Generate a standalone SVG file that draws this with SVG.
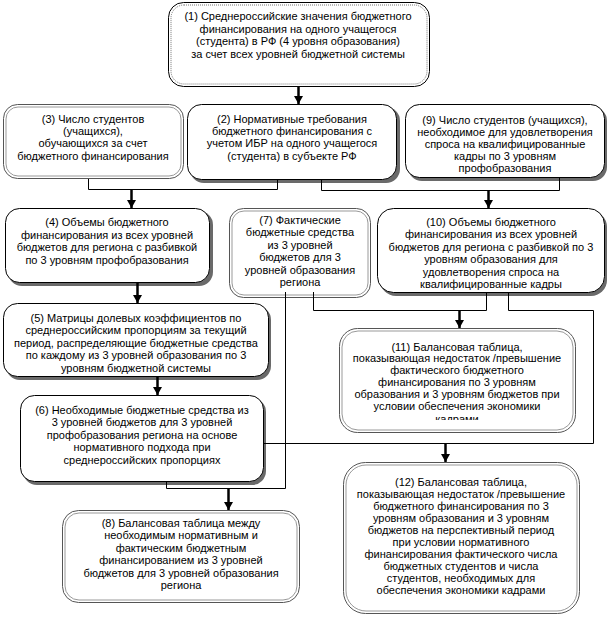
<svg xmlns="http://www.w3.org/2000/svg" width="608" height="617" viewBox="0 0 608 617">
<style>
text{font-family:"Liberation Sans",Arial,sans-serif;font-size:11px;fill:#000;text-anchor:middle}
.sh{fill:#6a6a6a}
.bx{fill:#fff;stroke:#000;stroke-width:1}
.dout{fill:#fff;stroke:#555;stroke-width:1}
.din{fill:none;stroke:#999;stroke-width:1}
.dot{fill:none;stroke:#777;stroke-width:1;stroke-dasharray:1 1}
.ln{fill:none;stroke:#000;stroke-width:1}
.ar{fill:none;stroke:#000;stroke-width:2.5;marker-end:url(#ah)}
</style>
<defs>
<marker id="ah" markerUnits="userSpaceOnUse" markerWidth="10" markerHeight="10" refX="8" refY="5" orient="auto">
<path d="M0,0.5 L8,5 L0,9.5 z" fill="#000"/>
</marker>
<clipPath id="c11"><rect x="340" y="329" width="234" height="91"/></clipPath>
</defs>
<rect width="608" height="617" fill="#fff"/>

<g id="n1">
<rect class="bx" x="168.5" y="2.5" width="261" height="84" rx="15" stroke="#444"/>
<rect class="dot" x="171" y="5" width="256" height="79" rx="13"/>
<text x="298" y="20">(1) Среднероссийские значения  бюджетного</text>
<text x="298" y="32.5">финансирования на одного учащегося</text>
<text x="298" y="45">(студента) в РФ (4 уровня образования)</text>
<text x="298" y="57.5">за счет всех уровней бюджетной системы</text>
</g>

<g id="n3">
<rect class="dout" x="3.5" y="104.5" width="180" height="74" rx="14"/>
<rect class="din" x="6" y="107" width="175" height="69" rx="12"/>
<text x="93" y="123">(3) Число студентов</text>
<text x="93" y="135">(учащихся),</text>
<text x="93" y="147">обучающихся за счет</text>
<text x="93" y="159.5">бюджетного финансирования</text>
</g>

<g id="n2">
<rect class="sh" x="190" y="107" width="210" height="76" rx="14"/>
<rect class="bx" x="187.5" y="104.5" width="209" height="75" rx="14"/>
<text x="292" y="123">(2) Нормативные требования</text>
<text x="292" y="135">бюджетного финансирования с</text>
<text x="292" y="147">учетом ИБР на одного учащегося</text>
<text x="292" y="159.5">(студента) в субъекте РФ</text>
</g>

<g id="n9">
<rect class="sh" x="408" y="107" width="199" height="74" rx="14"/>
<rect class="bx" x="405.5" y="104.5" width="199" height="73" rx="14"/>
<text x="505" y="124">(9) Число студентов (учащихся),</text>
<text x="505" y="136">необходимое для удовлетворения</text>
<text x="505" y="148">спроса на  квалифицированные</text>
<text x="505" y="160">кадры по 3 уровням</text>
<text x="505" y="172">профобразования</text>
</g>

<g id="n4">
<rect class="sh" x="8" y="211" width="205" height="75" rx="14"/>
<rect class="bx" x="5.5" y="208.5" width="204" height="74" rx="14"/>
<text x="107" y="225.5">(4) Объемы бюджетного</text>
<text x="107" y="238.5">финансирования из всех уровней</text>
<text x="107" y="251">бюджетов для региона с разбивкой</text>
<text x="107" y="263.5">по 3 уровням профобразования</text>
</g>

<g id="n7">
<rect class="dout" x="229.5" y="208.5" width="141" height="89" rx="14"/>
<rect class="din" x="232" y="211" width="136" height="84" rx="12"/>
<text x="300" y="223.5">(7) Фактические</text>
<text x="300" y="236">бюджетные средства</text>
<text x="300" y="248.5">из 3 уровней</text>
<text x="300" y="261">бюджетов для 3</text>
<text x="300" y="273.5">уровней образования</text>
<text x="300" y="286">региона</text>
</g>

<g id="n10">
<rect class="sh" x="380" y="211" width="227" height="85" rx="16"/>
<rect class="bx" x="377.5" y="208.5" width="227" height="84" rx="16"/>
<text x="491" y="225.5">(10) Объемы бюджетного</text>
<text x="491" y="238">финансирования из всех уровней</text>
<text x="491" y="250.5">бюджетов для региона с разбивкой по 3</text>
<text x="491" y="263">уровням образования для</text>
<text x="491" y="275.5">удовлетворения спроса на</text>
<text x="491" y="288">квалифицированные кадры</text>
</g>

<g id="n5">
<rect class="sh" x="6" y="306" width="265" height="74" rx="14"/>
<rect class="bx" x="3.5" y="303.5" width="265" height="73" rx="14"/>
<text x="136" y="321.5">(5) Матрицы долевых коэффициентов  по</text>
<text x="136" y="334">среднероссийским пропорциям за текущий</text>
<text x="136" y="346.5">период, распределяющие бюджетные средства</text>
<text x="136" y="359">по каждому из 3 уровней образования  по 3</text>
<text x="136" y="371.5">уровням бюджетной системы</text>
</g>

<g id="n6">
<rect class="sh" x="23" y="398" width="243" height="87" rx="14"/>
<rect class="bx" x="20.5" y="395.5" width="243" height="86" rx="14"/>
<text x="142" y="413.5">(6) Необходимые бюджетные средства из</text>
<text x="142" y="426">3 уровней бюджетов для 3 уровней</text>
<text x="142" y="438.5">профобразования региона на основе</text>
<text x="142" y="451">нормативного подхода при</text>
<text x="142" y="463.5">среднероссийских пропорциях</text>
</g>

<g id="n11">
<rect class="dout" x="339.5" y="328.5" width="236" height="104" rx="18"/>
<rect class="din" x="342" y="331" width="231" height="99" rx="16"/>
<g clip-path="url(#c11)">
<text x="457" y="350.5">(11) Балансовая таблица,</text>
<text x="457" y="362">показывающая недостаток /превышение</text>
<text x="457" y="374">фактического  бюджетного</text>
<text x="457" y="386">финансирования по 3  уровням</text>
<text x="457" y="398">образования и 3 уровням бюджетов при</text>
<text x="457" y="410">условии обеспечения  экономики</text>
<text x="457" y="422.5">кадрами</text>
</g>
</g>

<g id="n12">
<rect class="dout" x="343.5" y="462.5" width="236" height="151" rx="22"/>
<rect class="din" x="346" y="465" width="231" height="146" rx="20"/>
<text x="461" y="485.5">(12) Балансовая таблица,</text>
<text x="461" y="497.5">показывающая недостаток /превышение</text>
<text x="461" y="509.5">бюджетного финансирования по 3</text>
<text x="461" y="521.5">уровням образования и 3 уровням</text>
<text x="461" y="533.5">бюджетов на  перспективный период</text>
<text x="461" y="545.5">при условии нормативного</text>
<text x="461" y="557.5">финансирования фактического числа</text>
<text x="461" y="569.5">бюджетных студентов и числа</text>
<text x="461" y="581.5">студентов, необходимых для</text>
<text x="461" y="593.5">обеспечения экономики кадрами</text>
</g>

<g id="n8">
<rect class="dout" x="62.5" y="510.5" width="237" height="92" rx="16"/>
<rect class="din" x="65" y="513" width="232" height="87" rx="14"/>
<text x="181" y="526.5">(8) Балансовая таблица между</text>
<text x="181" y="539">необходимым нормативным  и</text>
<text x="181" y="551.5">фактическим бюджетным</text>
<text x="181" y="564">финансированием из 3 уровней</text>
<text x="181" y="576.5">бюджетов для 3 уровней образования</text>
<text x="181" y="589">региона</text>
</g>

<g id="connectors">
<path class="ar" d="M298.5,87 V104"/>
<path class="ln" d="M88.5,179 V189.5 H277.5 V180"/>
<path class="ar" d="M131.5,189.5 V208"/>
<path class="ln" d="M321.5,180 V190.5 H559.5 V178"/>
<path class="ar" d="M488.5,190.5 V208"/>
<path class="ar" d="M137.5,283 V303"/>
<path class="ar" d="M157.5,377 V395"/>
<path class="ln" d="M313.5,292 V310.5 H486.5 V293"/>
<path class="ar" d="M459.5,310.5 V328"/>
<path class="ln" d="M508.5,293 V310.5 H593.5 V443.5 H264"/>
<path class="ar" d="M445.5,443.5 V462"/>
<path class="ln" d="M285.5,292 V488.5 H166.5 V482"/>
<path class="ar" d="M228.5,488.5 V510"/>
</g>
</svg>
